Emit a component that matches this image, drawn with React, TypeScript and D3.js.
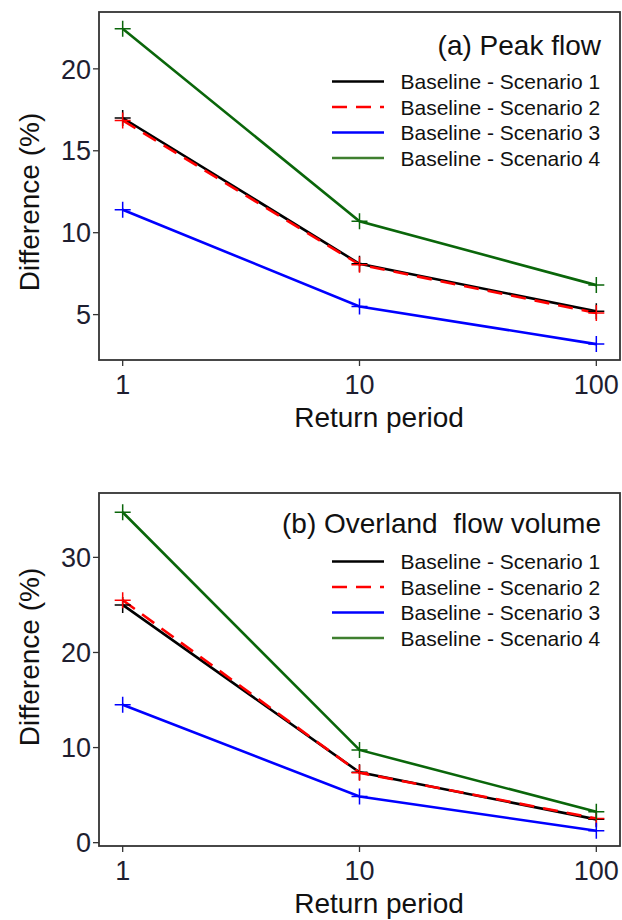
import React from "react";
import * as d3 from "d3";

const returnPeriods = [1, 10, 100];
const seriesNames = [
  "Baseline - Scenario 1",
  "Baseline - Scenario 2",
  "Baseline - Scenario 3",
  "Baseline - Scenario 4",
];
const seriesColors = ["#000000", "#ff0000", "#0000ff", "#0a660a"];
const legendColors = ["#000000", "#ff0000", "#0000ff", "#3f7f2f"];
const seriesDash = [null, "15,9", null, null];

const peakS1 = [17.0, 8.1, 5.2];
const peakS2 = [16.85, 8.05, 5.1];
const peakS3 = [11.4, 5.5, 3.2];
const peakS4 = [22.45, 10.7, 6.8];
const peakTicks = [5, 10, 15, 20];

const volS1 = [25.0, 7.4, 2.45];
const volS2 = [25.5, 7.35, 2.55];
const volS3 = [14.5, 4.85, 1.25];
const volS4 = [34.75, 9.75, 3.25];
const volTicks = [0, 10, 20, 30];

const xTicks = [1, 10, 100];
const FONT = "'Liberation Sans', Arial, Helvetica, sans-serif";

type PanelProps = {
  top: number;
  bottom: number;
  yDomain: [number, number];
  yTicks: number[];
  series: number[][];
  title: string;
  titleY: number;
  legendY: number;
  yLabelY: number;
};

function Panel(p: PanelProps) {
  const left = 99;
  const right = 620;
  const x = d3
    .scaleLog()
    .domain([Math.pow(10, -0.1), Math.pow(10, 2.1)])
    .range([left, right]);
  const y = d3.scaleLinear().domain(p.yDomain).range([p.bottom, p.top]);
  const line = d3
    .line<number>()
    .x((_, i) => x(returnPeriods[i]))
    .y((d) => y(d));
  const arm = 8;
  return (
    <g>
      {/* series lines */}
      {p.series.map((vals, si) => (
        <path
          key={"l" + si}
          d={line(vals) || ""}
          fill="none"
          stroke={seriesColors[si]}
          strokeWidth={2.6}
          strokeDasharray={seriesDash[si] || undefined}
        />
      ))}
      {/* markers */}
      {p.series.map((vals, si) =>
        vals.map((v, i) => {
          const cx = x(returnPeriods[i]);
          const cy = y(v);
          return (
            <path
              key={"m" + si + "-" + i}
              d={`M${cx - arm},${cy}H${cx + arm}M${cx},${cy - arm}V${cy + arm}`}
              stroke={seriesColors[si]}
              strokeWidth={1.5}
              fill="none"
            />
          );
        })
      )}
      {/* box */}
      <rect
        x={left}
        y={p.top}
        width={right - left}
        height={p.bottom - p.top}
        fill="none"
        stroke="#333"
        strokeWidth={1.8}
      />
      {/* y ticks */}
      {p.yTicks.map((t) => (
        <g key={"yt" + t}>
          <line x1={left - 6} x2={left} y1={y(t)} y2={y(t)} stroke="#333" strokeWidth={1.3} />
          <text
            x={91}
            y={y(t)}
            dy="0.36em"
            textAnchor="end"
            fontSize={27}
            fontFamily={FONT}
            fill="#1e1e30"
          >
            {t}
          </text>
        </g>
      ))}
      {/* x ticks */}
      {xTicks.map((t) => (
        <g key={"xt" + t}>
          <line x1={x(t)} x2={x(t)} y1={p.bottom} y2={p.bottom + 6} stroke="#333" strokeWidth={1.3} />
          <text
            x={x(t)}
            y={p.bottom + 34}
            textAnchor="middle"
            fontSize={27}
            fontFamily={FONT}
            fill="#1e1e30"
          >
            {t}
          </text>
        </g>
      ))}
      {/* axis titles */}
      <text
        x={379}
        y={p.bottom + 67}
        textAnchor="middle"
        fontSize={28}
        fontFamily={FONT}
        fill="#111"
      >
        Return period
      </text>
      <text
        transform={`translate(39,${p.yLabelY}) rotate(-90)`}
        textAnchor="middle"
        fontSize={28}
        fontFamily={FONT}
        fill="#111"
      >
        Difference (%)
      </text>
      {/* panel title */}
      <text
        x={601}
        y={p.titleY}
        textAnchor="end"
        fontSize={28}
        fontFamily={FONT}
        fill="#111"
        style={{ whiteSpace: "pre" }}
      >
        {p.title}
      </text>
      {/* legend */}
      {seriesNames.map((name, i) => {
        const ly = p.legendY + i * 25.5;
        return (
          <g key={"lg" + i}>
            <line
              x1={332}
              x2={384}
              y1={ly}
              y2={ly}
              stroke={legendColors[i]}
              strokeWidth={2.6}
              strokeDasharray={seriesDash[i] || undefined}
            />
            <text
              x={400.5}
              y={ly}
              dy="0.36em"
              fontSize={21}
              fontFamily={FONT}
              fill="#111"
            >
              {name}
            </text>
          </g>
        );
      })}
    </g>
  );
}

export default function App() {
  return (
    <svg
      width={622}
      height={920}
      style={{ position: "absolute", left: 0, top: 0, background: "#fff" }}
    >
      <rect x={0} y={0} width={622} height={920} fill="#fff" />
      <Panel
        top={12}
        bottom={360}
        yDomain={[2.23, 23.47]}
        yTicks={peakTicks}
        series={[peakS1, peakS2, peakS3, peakS4]}
        title="(a) Peak flow"
        titleY={55}
        legendY={81.5}
        yLabelY={202}
      />
      <Panel
        top={493}
        bottom={846}
        yDomain={[-0.35, 36.77]}
        yTicks={volTicks}
        series={[volS1, volS2, volS3, volS4]}
        title="(b) Overland  flow volume"
        titleY={533}
        legendY={561.5}
        yLabelY={657}
      />
    </svg>
  );
}
